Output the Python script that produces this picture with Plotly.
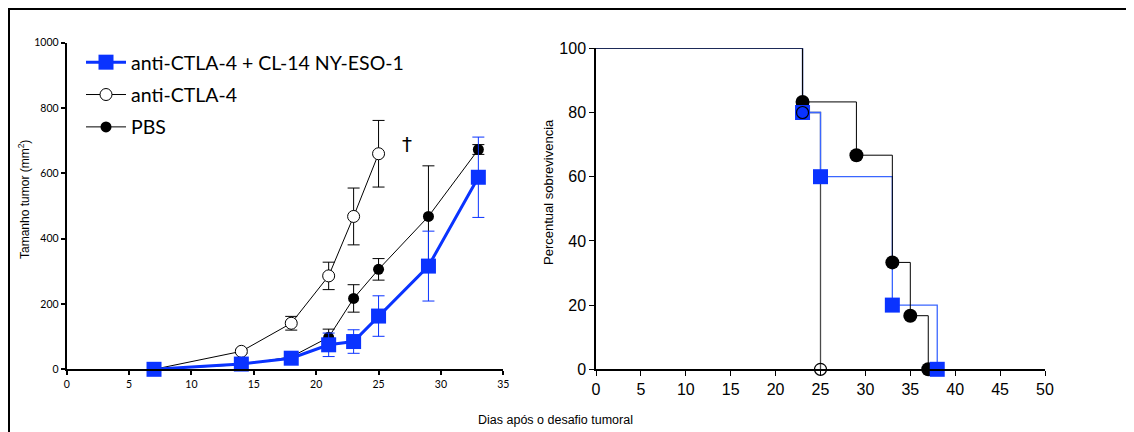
import plotly.graph_objects as go

# page body adds an 8px margin; figure is sized to fit the 1134x432 window
OX, OY = 8, 8
W, H = 1134 - OX, 432 - OY


def px(x):
    return (x - OX) / W


def py(y):
    return 1 - (y - OY) / H


# ---------------- Tumour growth data (left panel) ----------------
days_combo = [7, 14, 18, 21, 23, 25, 29, 33]
combo_mean = [0, 16, 34, 75, 85, 163, 316, 588]
combo_err = [4, 6, 6, 36, 36, 62, 107, 123]

days_anti = [7, 14, 18, 21, 23, 25]
anti_mean = [0, 55, 141, 286, 468, 660]
anti_err = [3, 6, 21, 42, 87, 102]

days_pbs = [7, 14, 18, 21, 23, 25, 29, 33]
pbs_mean = [0, 14, 38, 98, 217, 306, 468, 673]
pbs_err = [3, 5, 8, 25, 42, 33, 155, 15]

# ---------------- Survival data (right panel) ----------------
surv_pbs_days = [0, 23, 29, 33, 35, 37]
surv_pbs_pct = [100, 83.3, 66.7, 33.3, 16.7, 0]

surv_anti_days = [0, 23, 25]
surv_anti_pct = [100, 80, 0]

surv_combo_days = [0, 23, 25, 33, 38]
surv_combo_pct = [100, 80, 60, 20, 0]

left_yticks = [0, 200, 400, 600, 800, 1000]
left_xticks = [0, 5, 10, 15, 20, 25, 30, 35]
right_yticks = [0, 20, 40, 60, 80, 100]
right_xticks = list(range(0, 55, 5))

BLUE = "#0a33ff"
BLUE_LINE = "#3a66ff"
CAL = "Lato, 'Open Sans', sans-serif"
HEL = "'Liberation Sans', Arial, sans-serif"

fig = go.Figure()

# Left panel traces
fig.add_trace(go.Scatter(
    x=days_pbs, y=pbs_mean, mode="lines+markers", name="PBS",
    line=dict(color="black", width=1),
    marker=dict(symbol="circle", size=11, color="black"),
    error_y=dict(type="data", array=pbs_err, color="black", thickness=1, width=6),
    xaxis="x", yaxis="y", cliponaxis=False, legendrank=3, legendgroup="c",
))
fig.add_trace(go.Scatter(
    x=days_anti, y=anti_mean, mode="lines+markers", name="anti-CTLA-4",
    line=dict(color="black", width=1),
    marker=dict(symbol="circle", size=12, color="white", line=dict(color="black", width=1)),
    error_y=dict(type="data", array=anti_err, color="black", thickness=1, width=6),
    xaxis="x", yaxis="y", cliponaxis=False, legendrank=2, legendgroup="b",
))
fig.add_trace(go.Scatter(
    x=days_combo, y=combo_mean, mode="lines+markers", name="anti-CTLA-4 + CL-14 NY-ESO-1",
    line=dict(color=BLUE, width=3),
    marker=dict(symbol="square", size=15, color=BLUE),
    error_y=dict(type="data", array=combo_err, color=BLUE, thickness=1, width=6),
    xaxis="x", yaxis="y", cliponaxis=False, legendrank=1, legendgroup="a",
))

# Right panel: step lines
fig.add_trace(go.Scatter(
    x=surv_anti_days, y=surv_anti_pct, mode="lines", line_shape="hv",
    line=dict(color="#4a4a4a", width=1.3), showlegend=False,
    xaxis="x2", yaxis="y2", cliponaxis=False,
))
fig.add_trace(go.Scatter(
    x=surv_combo_days, y=surv_combo_pct, mode="lines", line_shape="hv",
    line=dict(color=BLUE_LINE, width=1.3), showlegend=False,
    xaxis="x2", yaxis="y2", cliponaxis=False,
))
fig.add_trace(go.Scatter(
    x=surv_pbs_days, y=surv_pbs_pct, mode="lines", line_shape="hv",
    line=dict(color="black", width=1), showlegend=False,
    xaxis="x2", yaxis="y2", cliponaxis=False,
))
# Right panel: markers at events
fig.add_trace(go.Scatter(
    x=surv_pbs_days[1:], y=surv_pbs_pct[1:], mode="markers",
    marker=dict(symbol="circle", size=14, color="black"), showlegend=False,
    xaxis="x2", yaxis="y2", cliponaxis=False,
))
fig.add_trace(go.Scatter(
    x=surv_combo_days[1:], y=surv_combo_pct[1:], mode="markers",
    marker=dict(symbol="square", size=15, color=BLUE), showlegend=False,
    xaxis="x2", yaxis="y2", cliponaxis=False,
))
fig.add_trace(go.Scatter(
    x=surv_anti_days[1:], y=surv_anti_pct[1:], mode="markers",
    marker=dict(symbol="circle-open", size=12, color="black", line=dict(width=1.2)),
    showlegend=False, xaxis="x2", yaxis="y2", cliponaxis=False,
))

axis_common = dict(showgrid=False, zeroline=False, showline=True, linecolor="black",
                   ticks="outside", tickcolor="black", fixedrange=True, automargin=False)

fig.update_layout(
    template="none",
    width=W, height=H,
    margin=dict(l=0, r=0, t=0, b=0, pad=0),
    paper_bgcolor="white", plot_bgcolor="white",
    showlegend=True,
    xaxis=dict(domain=[px(66.7), px(503.3)], range=[0, 35], tickvals=left_xticks,
               linewidth=2, ticklen=4, tickwidth=1.5,
               tickfont=dict(family=CAL, size=10.5, color="black"), anchor="y", **axis_common),
    yaxis=dict(domain=[py(369.3), py(42.7)], range=[0, 1000], tickvals=left_yticks,
               linewidth=2, ticklen=4, tickwidth=1.5,
               tickfont=dict(family=CAL, size=10.5, color="black"), anchor="x", **axis_common),
    xaxis2=dict(domain=[px(596), px(1045)], range=[0, 50], tickvals=right_xticks,
                linewidth=1.5, ticklen=5, tickwidth=1,
                tickfont=dict(family=HEL, size=16, color="black"), anchor="y2", **axis_common),
    yaxis2=dict(domain=[py(369.3), py(48.3)], range=[0, 100], tickvals=right_yticks,
                linewidth=1.5, ticklen=5, tickwidth=1,
                tickfont=dict(family=HEL, size=16, color="black"), anchor="x2", **axis_common),
    legend=dict(x=px(81), y=py(43), xanchor="left", yanchor="top",
                font=dict(family=CAL, size=19.5, color="black"),
                bgcolor="rgba(0,0,0,0)", borderwidth=0, tracegroupgap=4, itemwidth=40),
    annotations=[
        dict(text="Tamanho tumor (mm<sup>2</sup>)", x=px(24), y=py(200),
             xref="paper", yref="paper", showarrow=False, textangle=-90,
             xanchor="center", yanchor="middle",
             font=dict(family=HEL, size=12, color="black")),
        dict(text="Percentual sobrevivencia", x=px(548), y=py(192),
             xref="paper", yref="paper", showarrow=False, textangle=-90,
             xanchor="center", yanchor="middle",
             font=dict(family=HEL, size=13, color="black")),
        dict(text="†", x=27.3, y=690, xref="x", yref="y", showarrow=False,
             font=dict(family="DejaVu Sans", size=20, color="black")),
        dict(text="Dias após o desafio tumoral", x=px(555), y=py(420),
             xref="paper", yref="paper", showarrow=False,
             xanchor="center", yanchor="middle",
             font=dict(family=HEL, size=12.5, color="black")),
    ],
    shapes=[
        dict(type="line", xref="paper", yref="paper", x0=0, x1=1, y0=py(9), y1=py(9),
             line=dict(color="black", width=2)),
        dict(type="line", xref="paper", yref="paper", x0=px(9), x1=px(9), y0=0, y1=py(9),
             line=dict(color="black", width=2)),
    ],
)

fig.write_html("out.html")
